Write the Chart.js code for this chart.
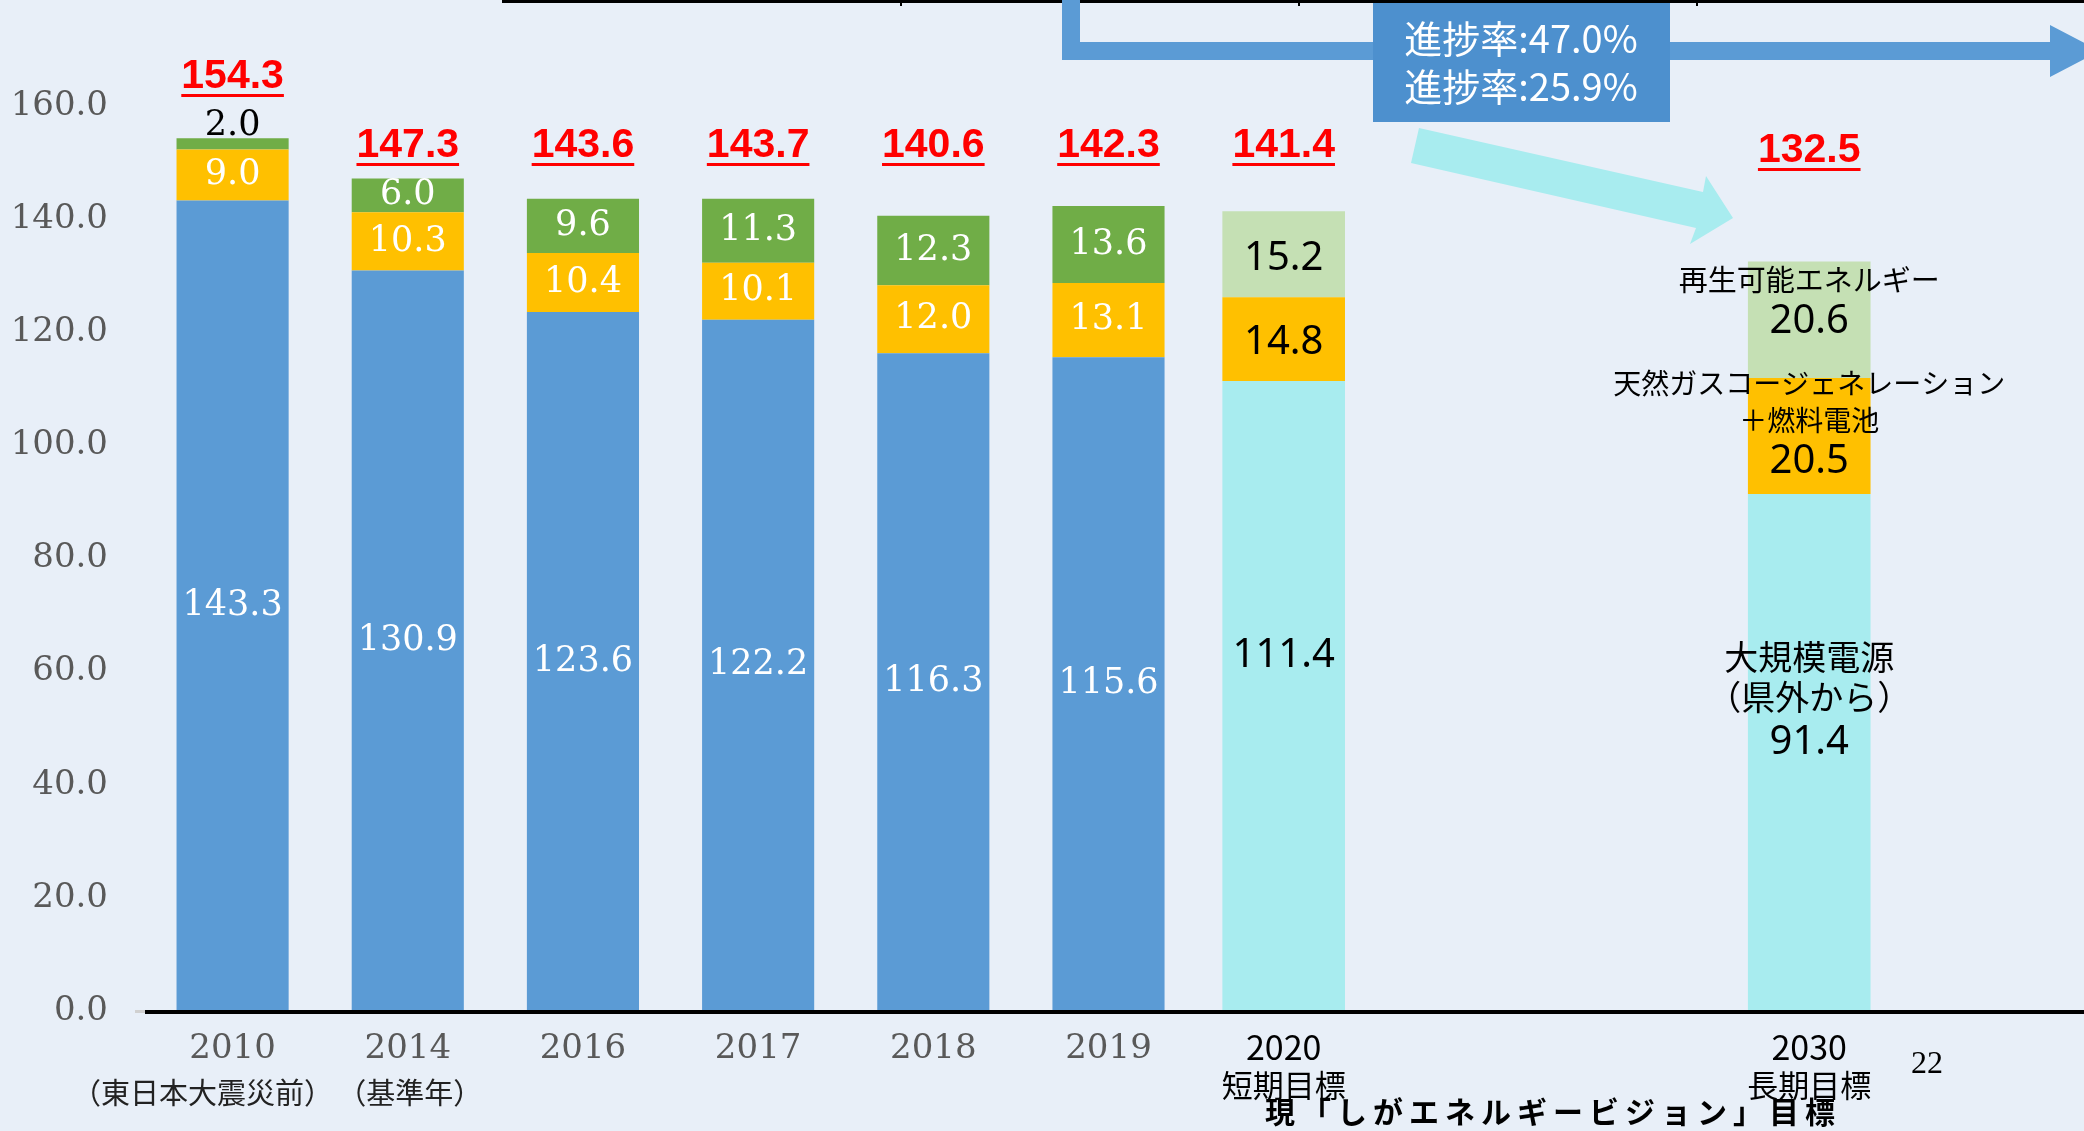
<!DOCTYPE html>
<html lang="ja">
<head>
<meta charset="UTF-8">
<title>電源構成の推移と目標</title>
<script src="https://cdn.jsdelivr.net/npm/chart.js"></script>
<style>
  html, body { margin: 0; padding: 0; background: #E8EFF8; }
</style>
</head>
<body>
<canvas id="powerChart" width="2084" height="1131"></canvas>
<script>
var categories = ['2010', '2014', '2016', '2017', '2018', '2019', '2020', '', '', '2030', ''];
var subLabels = ['（東日本大震災前）', '（基準年）', '', '', '', '', '短期目標', '', '', '長期目標', ''];

var largePower   = [143.3, 130.9, 123.6, 122.2, 116.3, 115.6, null, null, null, null, null];
var cogeneration = [9.0, 10.3, 10.4, 10.1, 12.0, 13.1, null, null, null, null, null];
var renewable    = [2.0, 6.0, 9.6, 11.3, 12.3, 13.6, null, null, null, null, null];

var targetLargePower   = [null, null, null, null, null, null, 111.4, null, null, 91.4, null];
var targetCogeneration = [null, null, null, null, null, null, 14.8, null, null, 20.5, null];
var targetRenewable    = [null, null, null, null, null, null, 15.2, null, null, 20.6, null];

var totals = [154.3, 147.3, 143.6, 143.7, 140.6, 142.3, 141.4, null, null, 132.5, null];

var yTicks = [0, 20, 40, 60, 80, 100, 120, 140, 160];

var largePowerName   = ['大規模電源', '（県外から）'];
var cogenerationName = ['天然ガスコージェネレーション', '＋燃料電池'];
var renewableName    = ['再生可能エネルギー'];
var progress = ['進捗率:47.0%', '進捗率:25.9%'];
var visionTitle = '現「しがエネルギービジョン」目標';
var pageNo = '22';

var BG = '#E8EFF8';

function text(ctx, s, x, y, font, color, align, baseline) {
    ctx.font = font;
    ctx.fillStyle = color;
    ctx.textAlign = align || 'center';
    ctx.textBaseline = baseline || 'middle';
    ctx.fillText(s, x, y);
}

function poly(ctx, pts, color) {
    ctx.beginPath();
    ctx.moveTo(pts[0][0], pts[0][1]);
    for (var i = 1; i < pts.length; i++) ctx.lineTo(pts[i][0], pts[i][1]);
    ctx.closePath();
    ctx.fillStyle = color;
    ctx.fill();
}

var decorPlugin = {
    id: 'decor',
    beforeDraw: function(chart) {
        var ctx = chart.ctx;
        ctx.save();
        ctx.fillStyle = BG;
        ctx.fillRect(0, 0, chart.width, chart.height);

        // edge of the table cut off above
        ctx.fillStyle = '#000';
        ctx.fillRect(502, 0, 1582, 3);
        [900, 1298, 1696].forEach(function(x) { ctx.fillRect(x, 0, 2, 6); });

        // blue arrow
        poly(ctx, [[1062, 0], [1080, 0], [1080, 42], [2050, 42], [2050, 25], [2100, 51],
                   [2050, 77], [2050, 60], [1062, 60]], '#5B9BD5');

        // progress box
        ctx.fillStyle = '#4D90CE';
        ctx.fillRect(1373, 3, 297, 119);
        text(ctx, progress[0], 1521, 39, '38px "Noto Sans CJK JP"', '#fff');
        text(ctx, progress[1], 1521, 87, '38px "Noto Sans CJK JP"', '#fff');

        // cyan arrow
        poly(ctx, [[1419, 128], [1703, 192], [1706, 176], [1733, 218], [1690, 244],
                   [1696, 228], [1411, 163]], '#A8ECEF');
        ctx.restore();
    },
    afterDatasetsDraw: function(chart) {
        var ctx = chart.ctx;
        var area = chart.chartArea;
        var xs = chart.scales.x;
        var serif = '35px "DejaVu Serif"';
        var sans = '40px "Noto Sans"';
        ctx.save();

        // values inside historical bars
        [0, 1, 2].forEach(function(di) {
            var meta = chart.getDatasetMeta(di);
            meta.data.forEach(function(bar, i) {
                var v = chart.data.datasets[di].data[i];
                if (v == null) return;
                if (bar.base - bar.y < 30) {
                    text(ctx, v.toFixed(1), bar.x, bar.y - 3, serif, '#000', 'center', 'alphabetic');
                } else {
                    text(ctx, v.toFixed(1), bar.x, (bar.y + bar.base) / 2, serif, '#fff');
                }
            });
        });

        // 2020 target
        var c6 = chart.getDatasetMeta(3).data[6];
        var o6 = chart.getDatasetMeta(4).data[6];
        var g6 = chart.getDatasetMeta(5).data[6];
        text(ctx, targetRenewable[6].toFixed(1), g6.x, (g6.y + g6.base) / 2 + 4, sans, '#000');
        text(ctx, targetCogeneration[6].toFixed(1), o6.x, (o6.y + o6.base) / 2 + 4, sans, '#000');
        text(ctx, targetLargePower[6].toFixed(1), c6.x, (c6.y + c6.base) / 2 - 40, sans, '#000');

        // 2030 target with series names
        var c9 = chart.getDatasetMeta(3).data[9];
        var o9 = chart.getDatasetMeta(4).data[9];
        var g9 = chart.getDatasetMeta(5).data[9];
        var gm = (g9.y + g9.base) / 2, om = (o9.y + o9.base) / 2, cm = (c9.y + c9.base) / 2;
        var cjk = '"Noto Sans CJK JP"';
        text(ctx, renewableName[0], g9.x, gm - 40, '29px ' + cjk, '#000');
        text(ctx, targetRenewable[9].toFixed(1), g9.x, gm + 2, sans, '#000');
        text(ctx, cogenerationName[0], o9.x, om - 53, '28px ' + cjk, '#000');
        text(ctx, cogenerationName[1], o9.x, om - 16, '28px ' + cjk, '#000');
        text(ctx, targetCogeneration[9].toFixed(1), o9.x, om + 26, sans, '#000');
        text(ctx, largePowerName[0], c9.x, cm - 95, '34px ' + cjk, '#000');
        text(ctx, largePowerName[1], c9.x, cm - 55, '34px ' + cjk, '#000');
        text(ctx, targetLargePower[9].toFixed(1), c9.x, cm - 10, sans, '#000');

        // red totals
        totals.forEach(function(t, i) {
            if (t == null) return;
            var x = xs.getPixelForValue(i);
            var y = i === 0 ? area.top - 29 : (i === 9 ? area.top + 45 : area.top + 40);
            var s = t.toFixed(1);
            text(ctx, s, x, y, 'bold 41px "Liberation Sans"', '#FF0000');
            var w = ctx.measureText(s).width;
            ctx.fillRect(x - w / 2, y + 17, w, 3);
        });

        // x axis line
        ctx.fillStyle = '#D0D0D0';
        ctx.fillRect(area.left - 10, area.bottom - 1, 10, 3);
        ctx.fillStyle = '#000';
        ctx.fillRect(area.left, area.bottom - 1, chart.width - area.left, 4);

        // category labels
        categories.forEach(function(c, i) {
            if (!c) return;
            var x = xs.getPixelForValue(i);
            if (subLabels[i] && i >= 6) {
                text(ctx, c, x, area.bottom + 36, '34px "Noto Sans CJK JP"', '#000');
                text(ctx, subLabels[i], x, area.bottom + 74, '31px "Noto Sans CJK JP"', '#000');
            } else {
                text(ctx, c, x, area.bottom + 38, '34px "DejaVu Serif"', '#595959');
            }
        });
        text(ctx, subLabels[0], xs.getPixelForValue(0) - 30, area.bottom + 82, '29px "Noto Sans CJK JP"', '#222');
        text(ctx, subLabels[1], xs.getPixelForValue(1) + 2, area.bottom + 82, '29px "Noto Sans CJK JP"', '#222');

        text(ctx, pageNo, 1927, 1065, '32px "Liberation Serif"', '#000');
        ctx.letterSpacing = '6px';
        text(ctx, visionTitle, 1553, 1112, 'bold 30px "Noto Sans CJK JP"', '#000');
        ctx.restore();
    }
};

var ctx = document.getElementById('powerChart').getContext('2d');
var histBar = 0.64, targetBar = 0.70;
var powerChart = new Chart(ctx, {
    type: 'bar',
    data: {
        labels: categories,
        datasets: [
            { label: largePowerName.join(''), data: largePower, backgroundColor: '#5B9BD5', barPercentage: histBar, categoryPercentage: 1 },
            { label: cogenerationName.join(''), data: cogeneration, backgroundColor: '#FFC000', barPercentage: histBar, categoryPercentage: 1 },
            { label: renewableName.join(''), data: renewable, backgroundColor: '#70AD47', barPercentage: histBar, categoryPercentage: 1 },
            { label: largePowerName.join('') + '（目標）', data: targetLargePower, backgroundColor: '#A8ECEF', barPercentage: targetBar, categoryPercentage: 1 },
            { label: cogenerationName.join('') + '（目標）', data: targetCogeneration, backgroundColor: '#FFC000', barPercentage: targetBar, categoryPercentage: 1 },
            { label: renewableName.join('') + '（目標）', data: targetRenewable, backgroundColor: '#C5E0B4', barPercentage: targetBar, categoryPercentage: 1 }
        ]
    },
    options: {
        responsive: false,
        animation: false,
        layout: { padding: { top: 106, right: 12, bottom: 120, left: 0 } },
        plugins: { legend: { display: false }, tooltip: { enabled: false } },
        scales: {
            x: {
                stacked: true,
                grid: { display: false, drawTicks: false },
                border: { display: false },
                ticks: { display: false }
            },
            y: {
                stacked: true,
                min: 0,
                max: 160,
                afterBuildTicks: function(scale) {
                    scale.ticks = yTicks.map(function(v) { return { value: v }; });
                },
                afterFit: function(scale) { scale.width = 145; },
                grid: { display: false, drawTicks: false },
                border: { display: false },
                ticks: {
                    padding: 37,
                    color: '#595959',
                    font: { family: 'DejaVu Serif', size: 34 },
                    callback: function(v) { return Number(v).toFixed(1); }
                }
            }
        }
    },
    plugins: [decorPlugin]
});
</script>
</body>
</html>
